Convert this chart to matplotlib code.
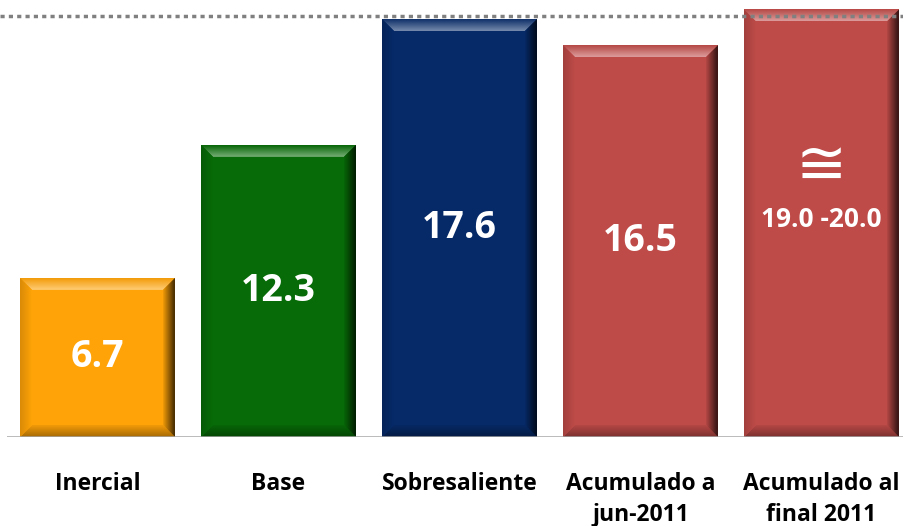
import numpy as np
import matplotlib
matplotlib.use("Agg")
import matplotlib.pyplot as plt
from matplotlib.patches import Polygon
from matplotlib.lines import Line2D
from matplotlib.colors import to_rgb

# ---- data ----
categories = ["Inercial", "Base", "Sobresaliente", "Acumulado a\njun-2011", "Acumulado al\nfinal 2011"]
bar_heights = [6.7, 12.3, 17.6, 16.5, 18.0]
value_labels = ["6.7", "12.3", "17.6", "16.5", "19.0 -20.0"]
bar_colors = ["#FFA308", "#076B07", "#062A68", "#BE4B48", "#BE4B48"]

W, H, DPI = 904, 526, 100
fig = plt.figure(figsize=(W / DPI, H / DPI), dpi=DPI)
ax = fig.add_axes([7 / W, 89 / H, 897 / W, 437 / H])
ax.set_xlim(-0.5, 4.456)
ax.set_ylim(0, 18.4)
for s in ax.spines.values():
    s.set_visible(False)
ax.set_yticks([])

x = np.arange(len(categories))
bw = 0.856
bars = ax.bar(x, bar_heights, width=bw, color=bar_colors, zorder=2)

# pixel -> data scale for bevel sizes
fig.canvas.draw()
p0 = ax.transData.transform((0, 0))
p1 = ax.transData.transform((1, 1))
px_x = 1.0 / (p1[0] - p0[0])
px_y = 1.0 / (p1[1] - p0[1])
bev = 12
bx, by = bev * px_x, bev * px_y


def mix(c, t, amt):
    c = np.array(to_rgb(c)); t = np.array(to_rgb(t))
    return tuple(c + (t - c) * amt)


def grad_poly(ax, verts, c_from, c_to, direction, extent):
    poly = Polygon(verts, closed=True, facecolor="none", edgecolor="none")
    ax.add_patch(poly)
    n = 64
    t = np.linspace(0, 1, n)
    cf = np.array(c_from); ct = np.array(c_to)
    cols = cf[None, :] * (1 - t[:, None]) + ct[None, :] * t[:, None]
    img = cols[None, :, :] if direction == "h" else cols[:, None, :]
    im = ax.imshow(img, extent=extent, origin="lower", aspect="auto",
                   interpolation="bilinear", zorder=3)
    im.set_clip_path(poly)


for b, c in zip(bars, bar_colors):
    x0 = b.get_x(); x1 = x0 + b.get_width(); y1 = b.get_height()
    # top bevel
    grad_poly(ax, [(x0, y1), (x1, y1), (x1 - bx, y1 - by), (x0 + bx, y1 - by)],
              mix(c, "white", 0.45), mix(c, "black", 0.05), "v",
              (x0, x1, y1 - by, y1))
    # bottom bevel
    grad_poly(ax, [(x0, 0), (x1, 0), (x1 - bx, by), (x0 + bx, by)],
              mix(c, "black", 0.35), mix(c, "black", 0.05), "v",
              (x0, x1, 0, by))
    # right bevel
    grad_poly(ax, [(x1, y1), (x1, 0), (x1 - bx, by), (x1 - bx, y1 - by)],
              mix(c, "black", 0.05), mix(c, "black", 0.75), "h",
              (x1 - bx, x1, 0, y1))
    # left bevel
    grad_poly(ax, [(x0, y1), (x0, 0), (x0 + bx, by), (x0 + bx, y1 - by)],
              mix(c, "black", 0.15), mix(c, "black", 0.0), "h",
              (x0, x0 + bx, 0, y1))

# value labels
for i, (h, lab) in enumerate(zip(bar_heights, value_labels)):
    if i < 4:
        ax.text(x[i], h / 2, lab, ha="center", va="center", color="white",
                fontsize=27, fontweight="bold", family="Open Sans", zorder=5)
    else:
        ax.annotate(lab, (x[i], h / 2), xytext=(0, 3), textcoords="offset points",
                    ha="center", va="center", color="white",
                    fontsize=19, fontweight="bold", family="Open Sans", zorder=5)
        ax.annotate("\u2245", (x[i], h / 2), xytext=(0, 40), textcoords="offset points",
                    ha="center", va="center", color="white",
                    fontsize=44, family="DejaVu Sans", zorder=5)

# baseline
ax.axhline(0, color="#A6A6A6", lw=1.8, zorder=4)

# category labels
ax.set_xticks(x)
ax.set_xticklabels(categories, fontsize=16.5, fontweight="bold", family="Open Sans",
                   linespacing=1.42, va="top")
ax.tick_params(axis="x", length=0, pad=25)

# dotted decorative line at top
fig.add_artist(Line2D([0, 1], [1 - 16 / H, 1 - 16 / H], transform=fig.transFigure,
                      color="#808080", lw=2.5, linestyle=(0, (1.2, 1.2)),
                      solid_capstyle="butt", dash_capstyle="butt", zorder=10))

fig.savefig("out.png", dpi=DPI)
